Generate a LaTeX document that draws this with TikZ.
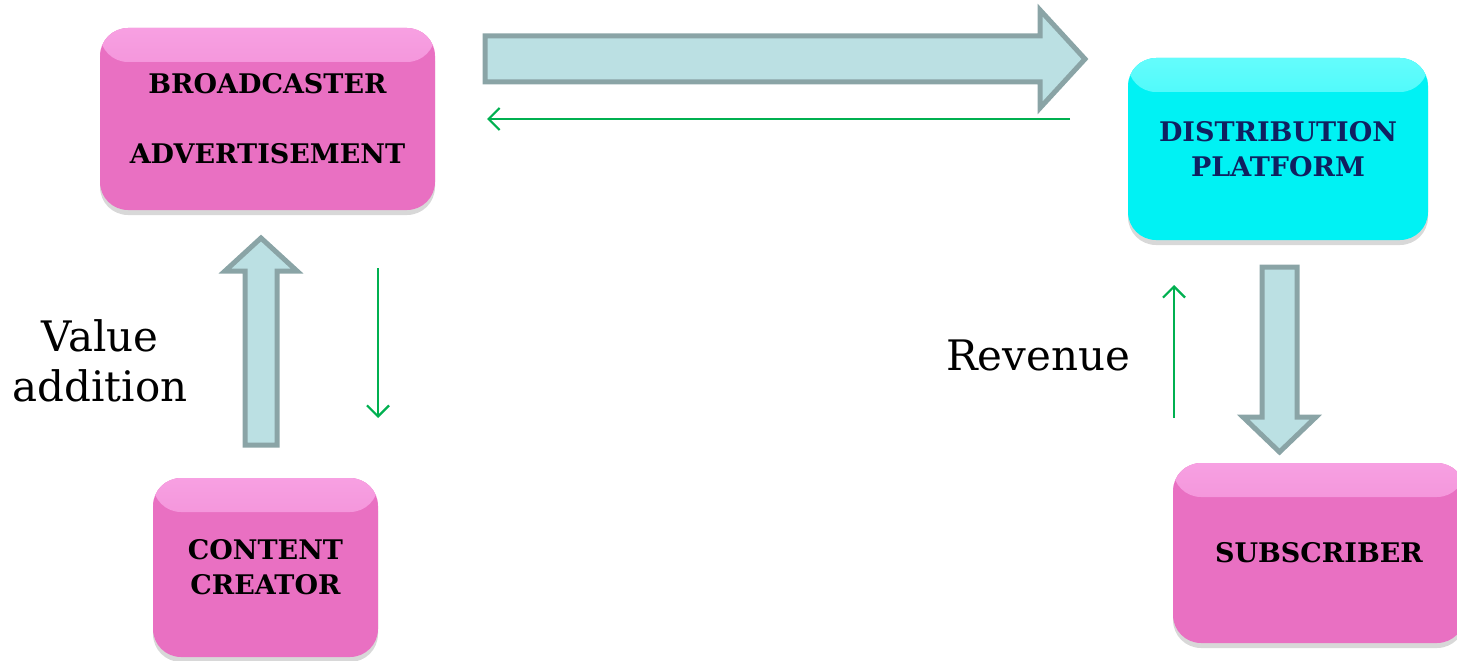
\documentclass[tikz,border=0pt]{standalone}
\usepackage{fontspec}
\setmainfont{DejaVu Serif}
\usetikzlibrary{arrows.meta,shadows}
\definecolor{pinkbox}{RGB}{233,112,194}
\definecolor{pinkhi}{RGB}{247,160,226}
\definecolor{cyanbox}{RGB}{0,242,244}
\definecolor{cyanhi}{RGB}{100,252,252}
\definecolor{navytext}{RGB}{16,32,96}
\definecolor{blockfill}{RGB}{187,224,227}
\definecolor{blockline}{RGB}{138,164,166}
\definecolor{flowgreen}{RGB}{0,176,80}
\tikzset{
  boxbase/.style={rounded corners=28pt, draw=none, align=center,
    font=\bfseries\fontsize{27}{35}\selectfont,
    drop shadow={shadow xshift=0pt, shadow yshift=-5pt, opacity=0.22, fill=black!70}},
  pinkbox/.style={boxbase, fill=pinkbox, text=black,
    path picture={\shade[top color=pinkhi, bottom color=pinkbox]
      (path picture bounding box.north west) rectangle ([yshift=-34pt]path picture bounding box.north east);}},
  cyanbox/.style={boxbase, fill=cyanbox, text=navytext,
    path picture={\shade[top color=cyanhi, bottom color=cyanbox]
      (path picture bounding box.north west) rectangle ([yshift=-34pt]path picture bounding box.north east);}},
  blockarrow/.style={draw=blockline, fill=blockfill, line width=5pt, line join=miter},
  flow/.style={draw=flowgreen, line width=2.2pt, -{Straight Barb[length=11pt,width=22pt,line width=2.2pt]}},
  label/.style={font=\fontsize{42}{50}\selectfont, align=center, text=black}
}
\begin{document}
\begin{tikzpicture}[x=1pt,y=-1pt]
\useasboundingbox (0,0) rectangle (1457,661);
\clip (0,0) rectangle (1457,661);
% boxes
\node[pinkbox, minimum width=335pt, minimum height=182pt, font=\bfseries\fontsize{27}{70}\selectfont] (bc) at (267.5,119) {BROADCASTER\\ADVERTISEMENT};
\node[cyanbox, minimum width=300pt, minimum height=182pt] (dp) at (1278,149) {DISTRIBUTION\\PLATFORM};
\node[pinkbox, minimum width=225pt, minimum height=179pt] (cc) at (265.5,567.5) {CONTENT\\CREATOR};
\node[pinkbox, minimum width=292pt, minimum height=180pt] (sb) at (1319,553) {SUBSCRIBER};
% block arrows
\draw[blockarrow] (485,36) -- (1040,36) -- (1040,10) -- (1085,59) -- (1040,108) -- (1040,82) -- (485,82) -- cycle;
\draw[blockarrow] (245,445) -- (245,271) -- (225,271) -- (261,238) -- (297,271) -- (277,271) -- (277,445) -- cycle;
\draw[blockarrow] (1262,267) -- (1297,267) -- (1297,417) -- (1316,417) -- (1279.5,452) -- (1243,417) -- (1262,417) -- cycle;
% green flows
\coordinate (g1s) at (1070,119);
\coordinate (g1e) at (487,119);
\coordinate (g2s) at (378,268);
\coordinate (g2e) at (378,418);
\coordinate (g3s) at (1174,418);
\coordinate (g3e) at (1174,285);
\draw[flow] (g1s) -- (g1e);
\draw[flow] (g2s) -- (g2e);
\draw[flow] (g3s) -- (g3e);
% labels
\node[label] (va) at (100,361) {Value\\addition};
\node[label] (rv) at (1038,355) {Revenue};
\end{tikzpicture}
\end{document}
